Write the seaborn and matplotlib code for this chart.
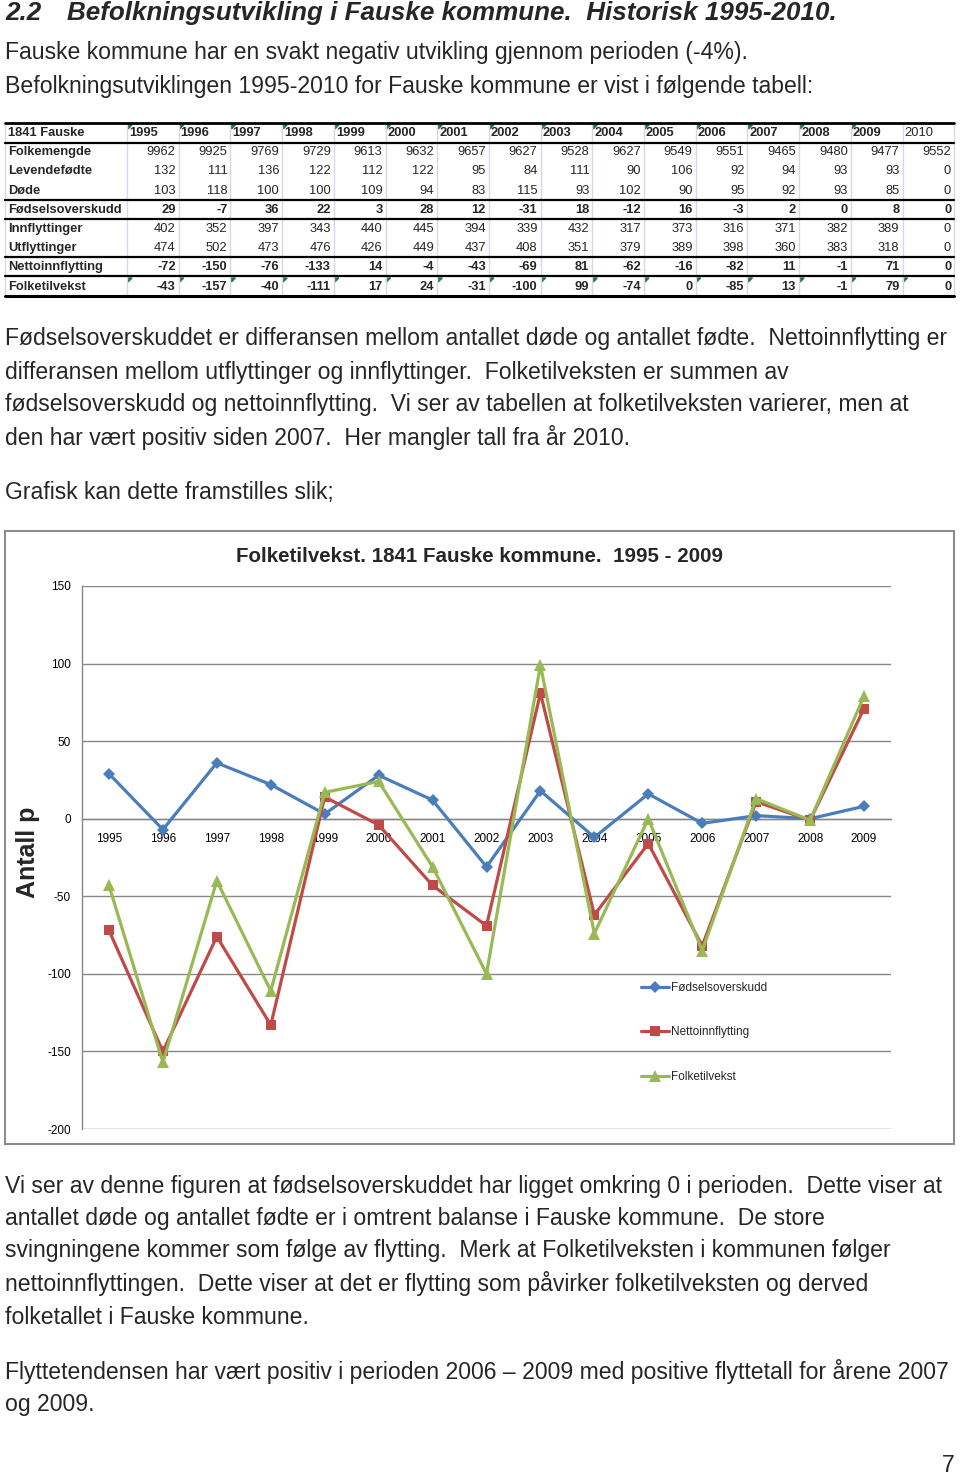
import matplotlib
matplotlib.use("Agg")
import matplotlib.pyplot as plt
from matplotlib.lines import Line2D
from matplotlib.patches import Rectangle, Polygon
import numpy as np
import pandas as pd
import seaborn as sns

# ---------------- data ----------------
years = ["1995", "1996", "1997", "1998", "1999", "2000", "2001", "2002",
         "2003", "2004", "2005", "2006", "2007", "2008", "2009", "2010"]
folkemengde = [9962, 9925, 9769, 9729, 9613, 9632, 9657, 9627, 9528, 9627, 9549, 9551, 9465, 9480, 9477, 9552]
levendefodte = [132, 111, 136, 122, 112, 122, 95, 84, 111, 90, 106, 92, 94, 93, 93, 0]
dode = [103, 118, 100, 100, 109, 94, 83, 115, 93, 102, 90, 95, 92, 93, 85, 0]
fodselsoverskudd = [29, -7, 36, 22, 3, 28, 12, -31, 18, -12, 16, -3, 2, 0, 8, 0]
innflyttinger = [402, 352, 397, 343, 440, 445, 394, 339, 432, 317, 373, 316, 371, 382, 389, 0]
utflyttinger = [474, 502, 473, 476, 426, 449, 437, 408, 351, 379, 389, 398, 360, 383, 318, 0]
nettoinnflytting = [-72, -150, -76, -133, 14, -4, -43, -69, 81, -62, -16, -82, 11, -1, 71, 0]
folketilvekst = [-43, -157, -40, -111, 17, 24, -31, -100, 99, -74, 0, -85, 13, -1, 79, 0]

chart_years = years[:15]
series_names = ["Fødselsoverskudd", "Nettoinnflytting", "Folketilvekst"]
y_ticks = [-200, -150, -100, -50, 0, 50, 100, 150]

# ---------------- style ----------------
sns.set_style("white")
plt.rcParams["font.family"] = ["Liberation Sans", "DejaVu Sans"]

W, H = 960, 1475
fig = plt.figure(figsize=(W / 100, H / 100), dpi=100)


def fx(px):
    return px / W


def fy(py):
    return 1 - py / H


BODY = 16.6
heading_kw = dict(fontsize=18.7, fontweight="bold", fontstyle="italic", va="center")
fig.text(fx(5), fy(13), "2.2", **heading_kw)
fig.text(fx(67), fy(13), "Befolkningsutvikling i Fauske kommune.  Historisk 1995-2010.", **heading_kw)

body_lines = [
    (53, "Fauske kommune har en svakt negativ utvikling gjennom perioden (-4%)."),
    (86, "Befolkningsutviklingen 1995-2010 for Fauske kommune er vist i følgende tabell:"),
    (339, "Fødselsoverskuddet er differansen mellom antallet døde og antallet fødte.  Nettoinnflytting er"),
    (372, "differansen mellom utflyttinger og innflyttinger.  Folketilveksten er summen av"),
    (405, "fødselsoverskudd og nettoinnflytting.  Vi ser av tabellen at folketilveksten varierer, men at"),
    (438, "den har vært positiv siden 2007.  Her mangler tall fra år 2010."),
    (492, "Grafisk kan dette framstilles slik;"),
    (1186, "Vi ser av denne figuren at fødselsoverskuddet har ligget omkring 0 i perioden.  Dette viser at"),
    (1219, "antallet døde og antallet fødte er i omtrent balanse i Fauske kommune.  De store"),
    (1251, "svingningene kommer som følge av flytting.  Merk at Folketilveksten i kommunen følger"),
    (1284, "nettoinnflyttingen.  Dette viser at det er flytting som påvirker folketilveksten og derved"),
    (1317, "folketallet i Fauske kommune."),
    (1371, "Flyttetendensen har vært positiv i perioden 2006 – 2009 med positive flyttetall for årene 2007"),
    (1404, "og 2009."),
]
for yy, t in body_lines:
    fig.text(fx(5), fy(yy), t, fontsize=BODY, va="center")
fig.text(fx(955), fy(1466), "7", fontsize=BODY, va="center", ha="right")

# ---------------- table ----------------
TFONT = ["Liberation Sans", "DejaVu Sans"]
TS = 9.3
col0 = 127
colw = 51.7
row_y = [133 + 19.2 * i for i in range(9)]
table_rows = [
    ("Folkemengde", folkemengde, "normal"),
    ("Levendefødte", levendefodte, "normal"),
    ("Døde", dode, "normal"),
    ("Fødselsoverskudd", fodselsoverskudd, "bold"),
    ("Innflyttinger", innflyttinger, "normal"),
    ("Utflyttinger", utflyttinger, "normal"),
    ("Nettoinnflytting", nettoinnflytting, "bold"),
    ("Folketilvekst", folketilvekst, "bold"),
]
grid_c = "#d3dae6"
for k in range(17):
    xx = col0 + colw * k
    fig.add_artist(Line2D([fx(xx), fx(xx)], [fy(123), fy(296)], color=grid_c, lw=1.0,
                          transform=fig.transFigure))
fig.add_artist(Line2D([fx(5), fx(5)], [fy(123), fy(296)], color=grid_c, lw=1.0,
                      transform=fig.transFigure))

fig.text(fx(8), fy(row_y[0]), "1841 Fauske", fontsize=TS, fontweight="bold", va="center", family=TFONT)
for k, yr in enumerate(years):
    left = col0 + colw * k
    fig.text(fx(left + 2), fy(row_y[0]), yr, fontsize=TS,
             fontweight="normal" if yr == "2010" else "bold", va="center", family=TFONT)
for i, (name, vals, wt) in enumerate(table_rows):
    yy = row_y[i + 1]
    fig.text(fx(8), fy(yy), name, fontsize=TS, fontweight="bold", va="center", family=TFONT)
    for k, v in enumerate(vals):
        right = col0 + colw * (k + 1)
        fig.text(fx(right - 3), fy(yy), str(v), fontsize=TS, fontweight=wt, va="center",
                 ha="right", family=TFONT)

for yy, lw in [(123, 2.0), (143, 1.6), (200, 1.6), (219, 1.6), (257, 1.6), (276, 1.6), (296, 2.2)]:
    fig.add_artist(Line2D([fx(5), fx(954)], [fy(yy), fy(yy)], color="black", lw=lw,
                          transform=fig.transFigure))

# little green error-indicator triangles
tri_c = "#1f7a45"
for k in range(16):
    left = col0 + colw * k + 1
    for top in (125, 278):
        if top == 125 and k == 15:
            continue
        fig.add_artist(Polygon([[fx(left), fy(top)], [fx(left + 4), fy(top)], [fx(left), fy(top + 4)]],
                               closed=True, color=tri_c, transform=fig.transFigure))

# ---------------- chart ----------------
fig.add_artist(Rectangle((fx(5), fy(1144)), fx(954) - fx(5), fy(531) - fy(1144),
                         fill=False, edgecolor="#8c8c8c", lw=1.5, transform=fig.transFigure))

ax = fig.add_axes([fx(82), fy(1129), fx(891) - fx(82), fy(586) - fy(1129)])
df = pd.DataFrame({
    "idx": np.arange(len(chart_years)),
    "Fødselsoverskudd": fodselsoverskudd[:15],
    "Nettoinnflytting": nettoinnflytting[:15],
    "Folketilvekst": folketilvekst[:15],
})
colors = ["#4a7ebb", "#be4b48", "#98b954"]
markers = ["D", "s", "^"]
msizes = [6.5, 7, 8]
for name, c, m, ms in zip(series_names, colors, markers, msizes):
    sns.lineplot(data=df, x="idx", y=name, ax=ax, color=c, marker=m, markersize=ms,
                 markeredgecolor=c, markeredgewidth=0, linewidth=2.3, label=name, zorder=3)

ax.set_xlim(-0.5, 14.5)
ax.set_ylim(-200, 150)
ax.set_yticks(y_ticks)
ax.set_yticklabels([str(v) for v in y_ticks])
ax.set_xticks(np.arange(len(chart_years)))
ax.set_xticklabels(chart_years)
ax.set_xlabel("")
ax.set_ylabel("")
for yv in y_ticks:
    ax.axhline(yv, color="#878787", lw=1.0, zorder=1)
for s in ["top", "right"]:
    ax.spines[s].set_visible(False)
ax.spines["left"].set_color("#878787")
ax.spines["left"].set_linewidth(1.0)
ax.spines["bottom"].set_position(("data", 0))
ax.spines["bottom"].set_color("#878787")
ax.spines["bottom"].set_linewidth(1.0)
ax.tick_params(axis="y", length=0, pad=8, labelsize=8.5, colors="black")
ax.tick_params(axis="x", length=0, pad=10, labelsize=8.5, colors="black")
ax.set_facecolor("none")
ax.grid(False)

leg = ax.legend(loc="upper left", bbox_to_anchor=(fx(641), fy(982)), bbox_transform=fig.transFigure,
                frameon=False, borderpad=0, borderaxespad=0, handlelength=2.4, handletextpad=0.15,
                labelspacing=2.75, fontsize=8.5)

fig.text(fx(480), fy(556), "Folketilvekst. 1841 Fauske kommune.  1995 - 2009", fontsize=14.8,
         fontweight="bold", ha="center", va="center")
fig.text(fx(28), fy(852), "Antall p", fontsize=18, fontweight="bold", rotation=90,
         ha="center", va="center")

fig.savefig("out.png", dpi=100)
